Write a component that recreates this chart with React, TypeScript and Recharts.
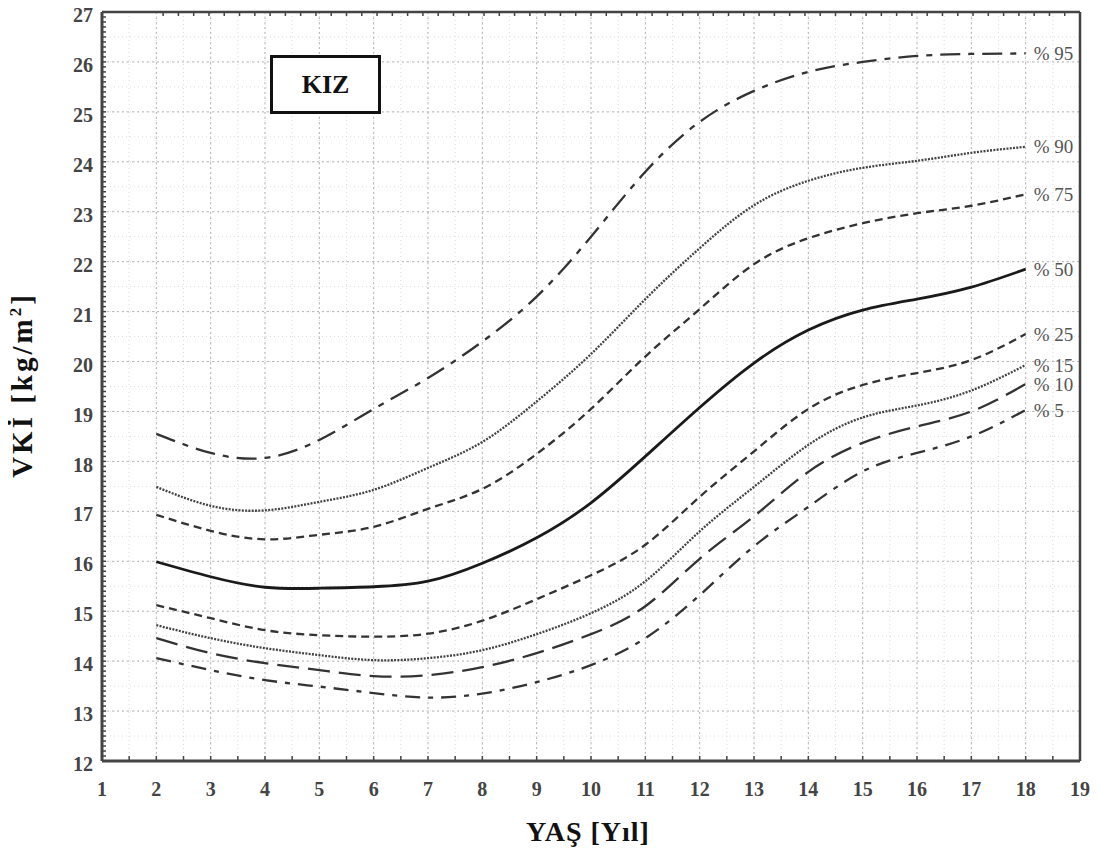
import React from 'react';
import { LineChart, Line, XAxis, YAxis, CartesianGrid } from 'recharts';

const AGES = [2, 3, 4, 5, 6, 7, 8, 9, 10, 11, 12, 13, 14, 15, 16, 17, 18];
const P95 = [18.55, 18.17, 18.07, 18.43, 19.05, 19.67, 20.4, 21.3, 22.5, 23.8, 24.8, 25.42, 25.8, 26.0, 26.12, 26.16, 26.17];
const P90 = [17.49, 17.11, 17.02, 17.19, 17.43, 17.87, 18.39, 19.2, 20.15, 21.25, 22.27, 23.13, 23.62, 23.88, 24.02, 24.18, 24.3];
const P75 = [16.93, 16.61, 16.44, 16.53, 16.69, 17.05, 17.45, 18.15, 19.05, 20.1, 21.05, 21.95, 22.47, 22.77, 22.97, 23.12, 23.35];
const P50 = [15.99, 15.69, 15.48, 15.46, 15.49, 15.6, 15.96, 16.47, 17.17, 18.1, 19.08, 19.97, 20.63, 21.03, 21.25, 21.49, 21.85];
const P25 = [15.12, 14.86, 14.62, 14.52, 14.49, 14.55, 14.81, 15.24, 15.72, 16.33, 17.29, 18.2, 19.05, 19.53, 19.77, 20.03, 20.55];
const P15 = [14.72, 14.46, 14.26, 14.12, 14.02, 14.06, 14.22, 14.54, 14.96, 15.6, 16.6, 17.49, 18.33, 18.88, 19.12, 19.42, 19.93];
const P10 = [14.46, 14.16, 13.96, 13.82, 13.7, 13.72, 13.88, 14.16, 14.54, 15.1, 16.05, 16.9, 17.79, 18.37, 18.7, 19.0, 19.55];
const P5 = [14.06, 13.82, 13.62, 13.49, 13.36, 13.27, 13.35, 13.58, 13.92, 14.46, 15.32, 16.3, 17.09, 17.8, 18.17, 18.5, 19.03];

const SERIES_LABELS = ['% 95', '% 90', '% 75', '% 50', '% 25', '% 15', '% 10', '% 5'];
const SERIES_KEYS = ['p95', 'p90', 'p75', 'p50', 'p25', 'p15', 'p10', 'p5'];
const SERIES_VALUES = [P95, P90, P75, P50, P25, P15, P10, P5];

const X_TICKS = [1, 2, 3, 4, 5, 6, 7, 8, 9, 10, 11, 12, 13, 14, 15, 16, 17, 18, 19];
const Y_TICKS = [12, 13, 14, 15, 16, 17, 18, 19, 20, 21, 22, 23, 24, 25, 26, 27];

const TITLE = 'KIZ';
const X_TITLE = 'YAŞ [Yıl]';

// minor tick/grid positions
const X_HALF: number[] = [];
for (let i = 2; i <= 38; i++) X_HALF.push(i / 2);
const X_QUARTER: number[] = [];
for (let i = 4; i <= 76; i++) X_QUARTER.push(i / 4);
const Y_MINOR: number[] = [];
for (let i = 120; i <= 270; i++) Y_MINOR.push(i / 10);
const Y_HALF: number[] = [];
for (let i = 24; i <= 54; i++) Y_HALF.push(i / 2);

const data = AGES.map((age, i) => {
  const row: Record<string, number> = { age };
  SERIES_KEYS.forEach((k, j) => {
    row[k] = SERIES_VALUES[j][i];
  });
  return row;
});

const STYLES: Record<string, { dash?: string; width: number; color: string }> = {
  p95: { dash: '20 8 6 8', width: 2.3, color: '#333' },
  p90: { dash: '2 1.3', width: 2.3, color: '#444' },
  p75: { dash: '8 5', width: 2.3, color: '#333' },
  p50: { width: 2.8, color: '#1a1a1a' },
  p25: { dash: '8 5', width: 2.3, color: '#333' },
  p15: { dash: '2 1.3', width: 2.3, color: '#444' },
  p10: { dash: '22 9', width: 2.3, color: '#333' },
  p5: { dash: '15 8 5 8', width: 2.3, color: '#333' },
};

const SERIF = '"Liberation Serif", "DejaVu Serif", serif';

const isInt = (v: number) => Math.abs(v - Math.round(v)) < 1e-6;

const makeEndLabel = (text: string) => (props: any) => {
  const { x, y, index } = props;
  if (index !== AGES.length - 1) return null;
  return (
    <text x={x + 8} y={y} dy="0.35em" fontFamily={SERIF} fontSize={19} fill="#555">
      {text}
    </text>
  );
};

const YTick = (props: any) => {
  const { x, y, payload } = props;
  const v = payload.value;
  if (!isInt(v)) return null;
  return (
    <text x={x} y={y + 3} dy="0.355em" textAnchor="end" fontFamily={SERIF} fontSize={20} fontWeight="bold" fill="#444">
      {Math.round(v)}
    </text>
  );
};

const XTick = (props: any) => {
  const { x, y, payload } = props;
  const v = payload.value;
  if (!isInt(v)) return null;
  return (
    <text x={x} y={y} dy="0.71em" textAnchor="middle" fontFamily={SERIF} fontSize={20} fontWeight="bold" fill="#444">
      {Math.round(v)}
    </text>
  );
};

export default function App() {
  return (
    <div style={{ position: 'relative', width: 1092, height: 852, marginTop: -8, background: '#fff' }}>
      <LineChart
        width={1092}
        height={852}
        data={data}
        margin={{ top: 11, right: 19, left: 0, bottom: 31 }}
      >
        <CartesianGrid
          horizontalValues={Y_HALF}
          verticalValues={X_HALF}
          stroke="#dddddd"
          strokeDasharray="1 3"
        />
        <CartesianGrid
          horizontalValues={Y_TICKS}
          verticalValues={X_TICKS}
          stroke="#b5b5b5"
          strokeDasharray="2 3"
        />
        <XAxis
          dataKey="age"
          type="number"
          domain={[1, 19]}
          ticks={X_HALF}
          interval={0}
          height={60}
          tickSize={-5}
          tickMargin={26}
          tick={<XTick />}
          axisLine={{ stroke: '#444', strokeWidth: 3 }}
          tickLine={{ stroke: '#444', strokeWidth: 1.5 }}
        />
        <XAxis
          xAxisId="top"
          orientation="top"
          type="number"
          domain={[1, 19]}
          ticks={X_QUARTER}
          interval={0}
          height={1}
          tickSize={-4}
          tickFormatter={() => ''}
          axisLine={{ stroke: '#444', strokeWidth: 2.5 }}
          tickLine={{ stroke: '#444', strokeWidth: 1.5 }}
        />
        <YAxis
          type="number"
          domain={[12, 27]}
          ticks={Y_MINOR}
          interval={0}
          width={94}
          tickSize={-4}
          tickMargin={13}
          tick={<YTick />}
          axisLine={{ stroke: '#444', strokeWidth: 3 }}
          tickLine={{ stroke: '#444', strokeWidth: 1.5 }}
        />
        <YAxis
          yAxisId="right"
          orientation="right"
          type="number"
          domain={[12, 27]}
          ticks={Y_HALF}
          interval={0}
          width={1}
          tickSize={-4}
          tickFormatter={() => ''}
          axisLine={{ stroke: '#444', strokeWidth: 2.5 }}
          tickLine={{ stroke: '#444', strokeWidth: 1.5 }}
        />
        {SERIES_KEYS.map((k, j) => (
          <Line
            key={k}
            dataKey={k}
            type="natural"
            stroke={STYLES[k].color}
            strokeWidth={STYLES[k].width}
            strokeDasharray={STYLES[k].dash}
            dot={false}
            activeDot={false}
            isAnimationActive={false}
            label={makeEndLabel(SERIES_LABELS[j])}
          />
        ))}
      </LineChart>
      <div
        style={{
          position: 'absolute',
          left: 262,
          top: 55,
          width: 111,
          height: 59,
          boxSizing: 'border-box',
          border: '3px solid #111',
          background: '#fff',
          display: 'flex',
          alignItems: 'center',
          justifyContent: 'center',
          fontFamily: SERIF,
          fontWeight: 'bold',
          fontSize: 26,
          color: '#111',
        }}
      >
        {TITLE}
      </div>
      <div
        style={{
          position: 'absolute',
          left: 14,
          top: 385,
          transform: 'translate(-50%, -50%) rotate(-90deg)',
          whiteSpace: 'nowrap',
          fontFamily: SERIF,
          fontWeight: 'bold',
          fontSize: 29,
          letterSpacing: 3,
          color: '#111',
        }}
      >
        VKİ [kg/m<sup style={{ fontSize: 17 }}>2</sup>]
      </div>
      <div
        style={{
          position: 'absolute',
          left: 580,
          top: 832,
          transform: 'translate(-50%, -50%)',
          whiteSpace: 'nowrap',
          fontFamily: SERIF,
          fontWeight: 'bold',
          fontSize: 28,
          letterSpacing: 1,
          color: '#111',
        }}
      >
        {X_TITLE}
      </div>
    </div>
  );
}
